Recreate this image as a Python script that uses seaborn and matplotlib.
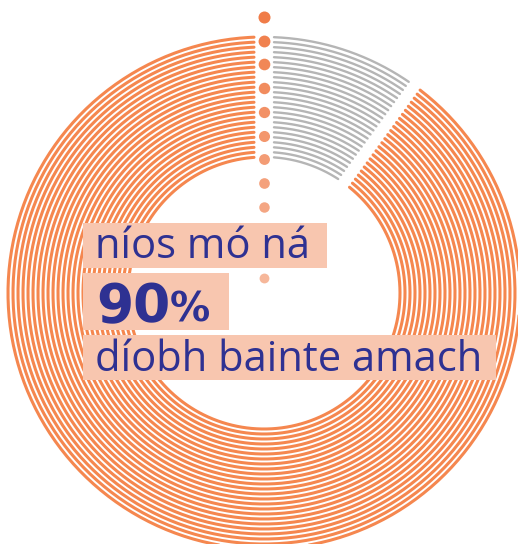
import numpy as np
import pandas as pd
import matplotlib.pyplot as plt
from matplotlib.patches import Rectangle
import seaborn as sns

# data
shares = [10, 90]                 # not yet reached / reached (%)
share_colors = ["#b5b5b5", "#f5874f"]
n_rings = 25
n_dots = 12
label_top = "níos mó ná"
label_big = "90"
label_pct = "%"
label_bottom = "díobh bainte amach"

W, H = 518, 544
cx, cy = 264, 293
r_in, r_out = 136, 256

sns.set_theme(style="white")
plt.rcParams['font.family'] = ['Open Sans', 'DejaVu Sans']

fig = plt.figure(figsize=(W / 100, H / 100), dpi=100)
ax = fig.add_axes([0, 0, 1, 1])
ax.set_xlim(0, W)
ax.set_ylim(H, 0)
ax.set_aspect('equal')
ax.axis('off')

# concentric arcs, one per ring, split by shares
edges = np.cumsum([0] + shares) / sum(shares) * 2 * np.pi
radii = np.linspace(r_in, r_out, n_rings)
trim = [(10, 7), (7, 10)]   # px cut at each end of a part
widths = [1.7, 2.2]
for i, (a0, a1) in enumerate(zip(edges[:-1], edges[1:])):
    rows = []
    for k, r in enumerate(radii):
        t = np.linspace(a0 + trim[i][0] / r, a1 - trim[i][1] / r, 300)
        rows.append(pd.DataFrame({'x': cx + r * np.sin(t),
                                  'y': cy - r * np.cos(t), 'ring': k}))
    part = pd.concat(rows)
    sns.lineplot(data=part, x='x', y='y', units='ring', estimator=None,
                 sort=False, color=share_colors[i], lw=widths[i], ax=ax,
                 legend=False, zorder=1)
ax.set_xlabel('')
ax.set_ylabel('')

# dotted marker line
dot_y = np.linspace(17, 278, n_dots)
dot_alpha = np.linspace(1.0, 0.55, n_dots)
dot_size = np.linspace(75, 50, n_dots)
for y, a, s in zip(dot_y, dot_alpha, dot_size):
    ax.scatter([cx], [y], s=s, color="#f07c48", alpha=a, lw=0, zorder=2)

# label boxes
box = "#f8c6af"
for x0, y0, x1, y1 in [(83, 223, 327, 268), (83, 273, 229, 330), (83, 335, 496, 380)]:
    ax.add_patch(Rectangle((x0, y0), x1 - x0, y1 - y0, color=box, lw=0, zorder=3))

navy = "#2e3192"
ax.text(95, 258, label_top, fontsize=30, color=navy, va='baseline', zorder=4)
ax.text(96, 322, label_big, fontsize=38.5, fontweight='bold', color=navy,
        family='DejaVu Sans', va='baseline', zorder=4)
ax.text(170, 322, label_pct, fontsize=29, fontweight='bold', color=navy,
        family='DejaVu Sans', va='baseline', zorder=4)
ax.text(95, 371, label_bottom, fontsize=30, color=navy, va='baseline', zorder=4)

fig.savefig("out.png", dpi=100)
